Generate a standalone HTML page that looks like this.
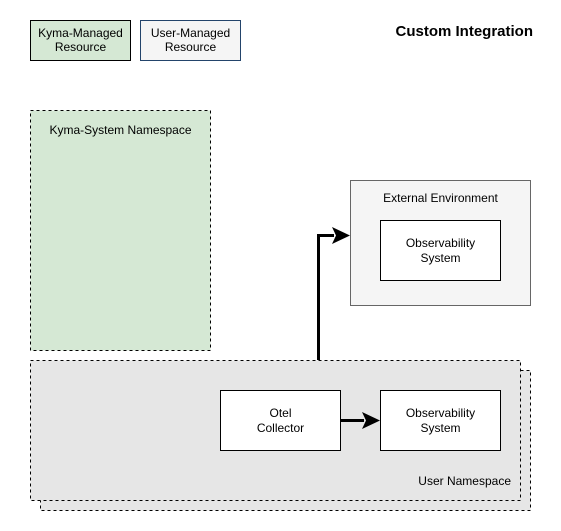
<!DOCTYPE html>
<html><head><style>body{margin:0;background:#fff}svg{display:block}text{font-family:"Liberation Sans",Arial,sans-serif;font-size:12px;fill:#000}</style></head><body>
<svg width="561" height="531" viewBox="0 0 561 531">
<rect x="30.5" y="20.5" width="100" height="40" fill="#d5e8d4" stroke="#000"/>
<text x="80.5" y="37" text-anchor="middle">Kyma-Managed</text><text x="80.5" y="51" text-anchor="middle">Resource</text>
<rect x="140.5" y="20.5" width="100" height="40" fill="#f5f5f5" stroke="#23446b"/>
<text x="190.5" y="37" text-anchor="middle">User-Managed</text><text x="190.5" y="51" text-anchor="middle">Resource</text>
<text x="533" y="36" text-anchor="end" style="font-weight:bold;font-size:15px">Custom Integration</text>
<rect x="30.5" y="110.5" width="180" height="240" fill="#d5e8d4" stroke="#000" stroke-dasharray="3 3"/>
<text x="120.5" y="134" text-anchor="middle">Kyma-System Namespace</text>
<rect x="350.5" y="180.5" width="180" height="125" fill="#f5f5f5" stroke="#666"/>
<text x="440.5" y="202" text-anchor="middle">External Environment</text>
<rect x="380.5" y="220.5" width="120" height="60" fill="#fff" stroke="#000"/>
<text x="440.5" y="247" text-anchor="middle">Observability</text><text x="440.5" y="262" text-anchor="middle">System</text>
<rect x="40.5" y="370.5" width="490" height="140" fill="#e6e6e6" stroke="#000" stroke-dasharray="3 3"/>
<rect x="30.5" y="360.5" width="490" height="140" fill="#e6e6e6" stroke="#000" stroke-dasharray="3 3"/>
<text x="511" y="485" text-anchor="end">User Namespace</text>
<rect x="220.5" y="390.5" width="120" height="60" fill="#fff" stroke="#000"/>
<text x="280.5" y="417" text-anchor="middle">Otel</text><text x="280.5" y="432" text-anchor="middle">Collector</text>
<rect x="380.5" y="390.5" width="120" height="60" fill="#fff" stroke="#000"/>
<text x="440.5" y="417" text-anchor="middle">Observability</text><text x="440.5" y="432" text-anchor="middle">System</text>
<path d="M341 420.5H364" stroke="#000" stroke-width="3" fill="none"/>
<path d="M380 420.5L362 412L366 420.5L362 429Z" fill="#000"/>
<path d="M318.5 360V235.5H334" stroke="#000" stroke-width="3" fill="none"/>
<path d="M350 235.5L332 227L336 235.5L332 244Z" fill="#000"/>
</svg></body></html>
